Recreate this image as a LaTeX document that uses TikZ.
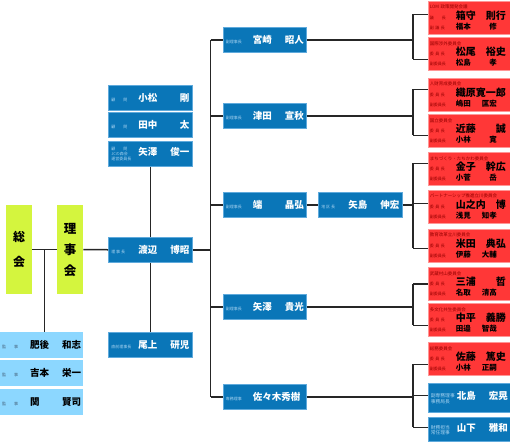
\documentclass[tikz,border=0pt]{standalone}
\usepackage{fontspec}
\setmainfont{Noto Sans CJK JP}
\usepackage{xcolor}
\usetikzlibrary{calc}

\definecolor{jcblue}{RGB}{10,118,184}
\definecolor{jcedge}{RGB}{95,170,220}
\definecolor{jcrole}{RGB}{165,210,240}
\definecolor{jcsky}{RGB}{140,215,255}
\definecolor{jcgrey}{RGB}{70,100,125}
\definecolor{jcred}{RGB}{255,55,55}
\definecolor{jcrededge}{RGB}{255,150,150}
\definecolor{jcdark}{RGB}{150,0,0}
\definecolor{jclime}{RGB}{212,245,62}
\colorlet{rolec}{jcrole}

\newcommand{\rolefont}{\fontsize{4}{4.8}\selectfont}
\newcommand{\namefont}{\fontsize{9.5}{10}\selectfont\bfseries}
% role on the left, surname / given name spread over the rest
\newcommand{\ofc}[4][27pt]{\makebox[#1][l]{\rolefont\color{rolec}#2}\makebox[51pt][l]{\namefont #3\hfill #4}}
% committee: header, chair row, vice-chair row
\newcommand{\cmt}[7]{{\fontsize{4.5}{5}\selectfont\color{jcdark}#1}\\
  \rule[-2pt]{0pt}{11pt}\makebox[26pt][l]{\rolefont\color{jcdark}#2}\makebox[50pt][l]{\fontsize{10}{11}\selectfont\bfseries #3\hfill #4}\\
  \rule[-1pt]{0pt}{8pt}\makebox[26pt][l]{\rolefont\color{jcdark}#5}\makebox[41pt][l]{\fontsize{7.5}{8}\selectfont\bfseries #6\hfill #7}}

\begin{document}
\begin{tikzpicture}[x=1pt, y=-1pt,
  link/.style={draw=black!85, line width=1.5pt},
  council/.style={fill=jclime, anchor=north west, minimum width=26pt, minimum height=89pt, inner sep=0pt, align=center},
  officer/.style={fill=jcblue, draw=jcedge, line width=0.6pt, anchor=north west, minimum width=84pt, minimum height=25pt, inner sep=0pt, text=white, execute at begin node={\colorlet{rolec}{jcrole}}},
  auditor/.style={fill=jcsky, anchor=north west, minimum width=83pt, minimum height=26pt, inner sep=0pt, text=black, execute at begin node={\colorlet{rolec}{jcgrey}}},
  committee/.style={fill=jcred, draw=jcrededge, line width=0.6pt, anchor=north west, minimum width=82pt, minimum height=33pt, inner sep=1.5pt, text width=79pt, align=left, font=\fontsize{4.5}{5}\selectfont}]
  \useasboundingbox (0,0) rectangle (510,441);

  % general assembly and board
  \node[council, font=\fontsize{12}{25}\selectfont\bfseries] (soukai) at (6,205) {総\\会};
  \node[council, font=\fontsize{12.5}{21}\selectfont\bfseries] (rijikai) at (57,205) {理\\事\\会};

  % advisers, president
  \node[officer] (komatsu) at (108,85) {\ofc{顧　　問}{小松}{剛}};
  \node[officer] (tanaka) at (108,112) {\ofc{顧　　問}{田中}{太}};
  \node[officer] (yazawaK) at (108,141) {\ofc{\parbox[c]{27pt}{顧　　問\\JCの森会\\運営委員長}}{矢澤}{俊一}};
  \node[officer] (watanabe) at (108,237) {\ofc{理 事 長}{渡辺}{博昭}};
  \node[officer] (onoue) at (108,332) {\ofc{直前理事長}{尾上}{研児}};

  % auditors
  \node[auditor] (higo) at (0,332) {\ofc[28pt]{監　　事}{肥後}{和志}};
  \node[auditor] (yoshimoto) at (0,360) {\ofc[28pt]{監　　事}{吉本}{栄一}};
  \node[auditor] (seki) at (0,389) {\ofc[28pt]{監　　事}{関}{賢司}};

  % vice presidents
  \node[officer, minimum width=83pt] (miyazaki) at (223,27) {\ofc{副理事長}{宮崎}{昭人}};
  \node[officer, minimum width=83pt] (tsuda) at (223,103) {\ofc{副理事長}{津田}{宣秋}};
  \node[officer, minimum width=83pt] (hata) at (223,192) {\ofc{副理事長}{端}{晶弘}};
  \node[officer] (yajima) at (318,192) {\ofc{地 区 長}{矢島}{伸宏}};
  \node[officer, minimum width=83pt] (yazawa) at (223,294) {\ofc{副理事長}{矢澤}{貴光}};
  \node[officer, minimum width=83pt] (sasaki) at (223,384) {\ofc{専務理事}{佐々木秀樹}{}};

  % committees
  \node[committee] (lom) at (428,1) {\cmt{LOM 政策開発会議}{議　　長}{箱守}{則行}{副 議 長}{福本}{修}};
  \node[committee] (kokusai) at (428,37) {\cmt{国際渉外委員会}{委 員 長}{松尾}{裕史}{副委員長}{松島}{孝}};
  \node[committee] (jinzai) at (428,78) {\cmt{人財育成委員会}{委 員 長}{織原寛一郎}{}{副委員長}{嶋田}{匡宏}};
  \node[committee] (kunitachi) at (428,114) {\cmt{国立委員会}{委 員 長}{近藤}{誠}{副委員長}{小林}{寛}};
  \node[committee] (machi) at (428,152) {\cmt{まちづくり・たちかわ委員会}{委 員 長}{金子}{幹広}{副委員長}{小菅}{岳}};
  \node[committee] (partner) at (428,190) {\cmt{パートナーシップ推進立川委員会}{委 員 長}{山之内}{博}{副委員長}{浅見}{知孝}};
  \node[committee] (kyouiku) at (428,229) {\cmt{教育改革立川委員会}{委 員 長}{米田}{典弘}{副委員長}{伊藤}{大輔}};
  \node[committee] (musashi) at (428,267) {\cmt{武蔵村山委員会}{委 員 長}{三浦}{哲}{副委員長}{名取}{清高}};
  \node[committee] (tabunka) at (428,303) {\cmt{多文化共生委員会}{委 員 長}{中平}{義勝}{副委員長}{田邉}{智哉}};
  \node[committee] (soumu) at (428,342) {\cmt{総務委員会}{委 員 長}{佐藤}{篤史}{副委員長}{小林}{正嗣}};
  \node[officer, minimum width=82pt, minimum height=29pt] (kitajima) at (428,383) {\ofc[26pt]{\parbox[c]{26pt}{\fontsize{4.8}{5.6}\selectfont 副専務理事\\事務局長}}{北島}{宏晃}};
  \node[officer, minimum width=82pt, minimum height=24pt] (yamashita) at (428,417) {\ofc[26pt]{\parbox[c]{26pt}{\fontsize{4.8}{5.6}\selectfont 財務担当\\常任理事}}{山下}{雅和}};

  % left part
  \draw[link] (soukai) -- (rijikai);
  \draw[link] (rijikai) -- (watanabe);
  \draw[link] ($(soukai.east)!0.5!(rijikai.west)$) coordinate (jn) -- (jn |- higo.north);
  \draw[link] (yazawaK) -- (watanabe);
  \draw[link] (watanabe) -- (onoue);

  % trunk to vice presidents
  \draw[link] (watanabe.east) -- ++(18,0) coordinate (trunk);
  \draw[link] (trunk |- miyazaki.west) -- (trunk |- sasaki.west);
  \foreach \v in {miyazaki, tsuda, hata, yazawa, sasaki}
    \draw[link] (trunk |- \v.west) -- (\v.west);

  % vice presidents to committees
  \coordinate (bar) at (413,0);
  \foreach \v in {miyazaki, tsuda, yazawa, sasaki}
    \draw[link] (\v.east) -- (bar |- \v.east);
  \draw[link] (hata) -- (yajima);
  \draw[link] (yajima.east) -- (bar |- yajima.east);
  \foreach \c/\d in {lom/-3.5, kokusai/5.5, jinzai/-5.5, kunitachi/4.5, machi/-5.5, partner/-3.5, kyouiku/2.5, musashi/0, tabunka/5.5, soumu/5.5, kitajima/-2.5, yamashita/-2}{
    \coordinate (s-\c) at ($(\c.west)+(0,\d)$);
    \draw[link] (bar |- s-\c) -- (s-\c);
  }
  \draw[link] (bar |- s-lom) -- (bar |- s-kokusai);
  \draw[link] (bar |- s-jinzai) -- (bar |- s-kunitachi);
  \draw[link] (bar |- s-machi) -- (bar |- s-kyouiku);
  \draw[link] (bar |- s-musashi) -- (bar |- s-tabunka);
  \draw[link] (bar |- s-soumu) -- (bar |- s-yamashita);
\end{tikzpicture}
\end{document}
